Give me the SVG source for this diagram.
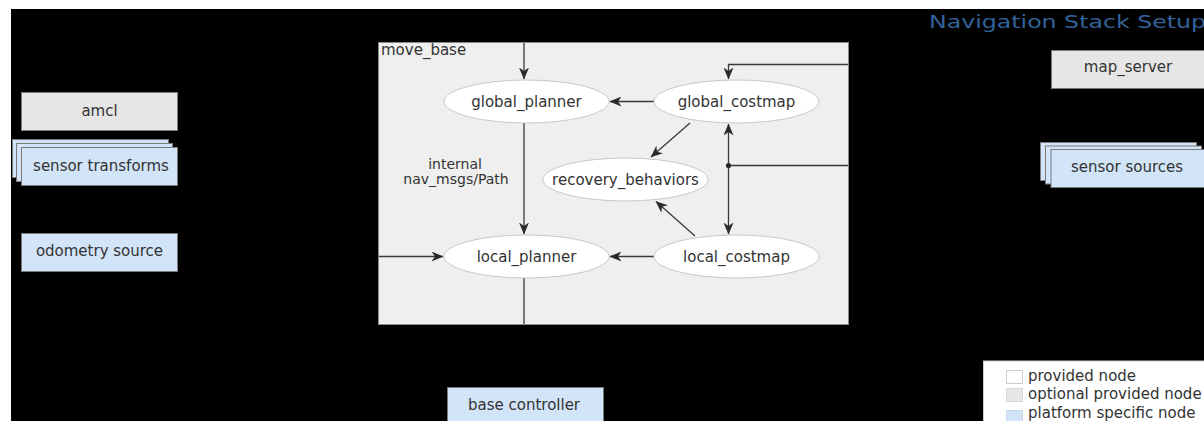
<svg xmlns="http://www.w3.org/2000/svg" width="1204" height="421" viewBox="0 0 1204 421">
  <style>
    text { font-family: "DejaVu Sans", "Liberation Sans", sans-serif; fill: #333; font-size: 15px; }
    .c { text-anchor: middle; }
    .title { font-size: 18px; fill: #33639a; }
    .lbl { font-size: 14px; }
    .opt { fill: #e6e6e6; stroke: #7a7a7a; stroke-width: 1; }
    .plat { fill: #d2e4f8; stroke: #7a7a7a; stroke-width: 1; }
    .prov { fill: #ffffff; stroke: #c8c8c8; stroke-width: 1; }
    .edge { fill: none; stroke: #3a3a3a; stroke-width: 1.3; }
  </style>
  <defs>
    <marker id="arrow" viewBox="0 0 12 10" refX="11.5" refY="5" markerWidth="12" markerHeight="10" markerUnits="userSpaceOnUse" orient="auto-start-reverse">
      <path d="M0,0 L12,5 L0,10 L3.5,5 z" fill="#2a2a2a"/>
    </marker>
  </defs>

  <!-- canvas -->
  <rect x="0" y="0" width="1204" height="421" fill="#ffffff"/>
  <rect x="11" y="9" width="1193" height="412" fill="#000000"/>

  <text class="title" x="929" y="28" textLength="277" lengthAdjust="spacingAndGlyphs">Navigation Stack Setup</text>

  <!-- move_base container -->
  <g id="move_base">
    <rect x="378.5" y="42.5" width="470" height="282" fill="#efefef" stroke="#8a8a8a" stroke-width="1"/>
    <text x="381" y="55">move_base</text>
  </g>

  <!-- connectors -->
  <g id="connectors">
    <path class="edge" d="M524,43 V79" marker-end="url(#arrow)"/>
    <path class="edge" d="M848,64.5 H728.5 V79" marker-end="url(#arrow)"/>
    <path class="edge" d="M654,101.5 H610" marker-end="url(#arrow)"/>
    <path class="edge" d="M524,123 V234" marker-end="url(#arrow)"/>
    <path class="edge" d="M654,256.5 H610" marker-end="url(#arrow)"/>
    <path class="edge" d="M379,256.5 H443" marker-end="url(#arrow)"/>
    <path class="edge" d="M524,278 V324" style="stroke:#777;stroke-width:2"/>
    <path class="edge" d="M690,123 L651,157" marker-end="url(#arrow)"/>
    <path class="edge" d="M695,236 L656,201.5" marker-end="url(#arrow)"/>
    <path class="edge" d="M728.5,124 V234" marker-start="url(#arrow)" marker-end="url(#arrow)"/>
    <path class="edge" d="M728.5,165.5 H848"/>
    <circle cx="728.5" cy="165.5" r="2.6" fill="#2a2a2a"/>
    <text class="c lbl" x="455" y="169">internal</text>
    <text class="c lbl" x="456" y="184">nav_msgs/Path</text>
  </g>

  <g id="global_planner">
    <ellipse class="prov" cx="526.5" cy="101.5" rx="82.5" ry="21.5"/>
    <text class="c" x="526.5" y="106.5">global_planner</text>
  </g>
  <g id="global_costmap">
    <ellipse class="prov" cx="736.5" cy="101.5" rx="82.5" ry="21.5"/>
    <text class="c" x="736.5" y="106.5">global_costmap</text>
  </g>
  <g id="recovery_behaviors">
    <ellipse class="prov" cx="625.5" cy="179.5" rx="82.5" ry="21.5"/>
    <text class="c" x="625.5" y="184.5">recovery_behaviors</text>
  </g>
  <g id="local_planner">
    <ellipse class="prov" cx="526.5" cy="256.5" rx="82.5" ry="21.5"/>
    <text class="c" x="526.5" y="261.5">local_planner</text>
  </g>
  <g id="local_costmap">
    <ellipse class="prov" cx="736.5" cy="256.5" rx="82.5" ry="21.5"/>
    <text class="c" x="736.5" y="261.5">local_costmap</text>
  </g>

  <!-- external nodes -->
  <g id="amcl">
    <rect class="opt" x="21.5" y="92.5" width="156" height="38"/>
    <text class="c" x="99.5" y="116">amcl</text>
  </g>
  <g id="sensor_transforms">
    <rect class="plat" x="12.5" y="139.5" width="156" height="38"/>
    <rect class="plat" x="16.5" y="143.5" width="156" height="38"/>
    <rect class="plat" x="21.5" y="147.5" width="156" height="38"/>
    <text class="c" x="101" y="171">sensor transforms</text>
  </g>
  <g id="odometry_source">
    <rect class="plat" x="21.5" y="233.5" width="156" height="38"/>
    <text class="c" x="99.5" y="256">odometry source</text>
  </g>
  <g id="map_server">
    <rect class="opt" x="1051.5" y="50.5" width="156" height="38"/>
    <text class="c" x="1128" y="72">map_server</text>
  </g>
  <g id="sensor_sources">
    <rect class="plat" x="1040.5" y="142.5" width="156" height="38"/>
    <rect class="plat" x="1045.5" y="146" width="156" height="38"/>
    <rect class="plat" x="1051" y="149.5" width="156" height="38"/>
    <text class="c" x="1127" y="172">sensor sources</text>
  </g>
  <g id="base_controller">
    <rect class="plat" x="447.5" y="387.5" width="156" height="38"/>
    <text class="c" x="524" y="410">base controller</text>
  </g>

  <!-- legend -->
  <g id="legend">
    <rect x="983.5" y="361" width="230" height="70" fill="#ffffff" stroke="#cccccc"/>
    <rect x="1006.5" y="370.5" width="16" height="13" fill="#ffffff" stroke="#cccccc"/>
    <text x="1028" y="381">provided node</text>
    <rect x="1006.5" y="388.5" width="16" height="13" fill="#e6e6e6" stroke="#d8d8d8"/>
    <text x="1028" y="399">optional provided node</text>
    <rect x="1006.5" y="410.5" width="16" height="13" fill="#d2e4f8" stroke="#c8d8ea"/>
    <text x="1028" y="418">platform specific node</text>
  </g>
</svg>
